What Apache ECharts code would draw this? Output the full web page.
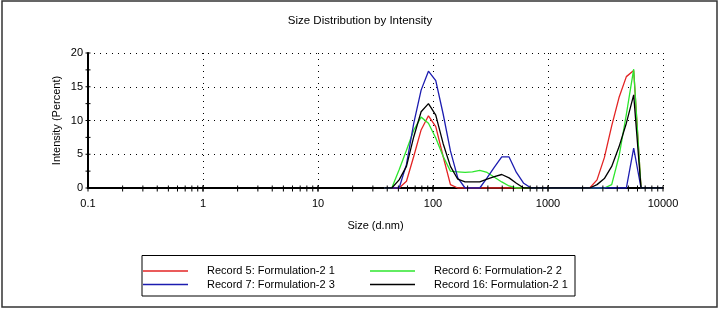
<!DOCTYPE html>
<html>
<head>
<meta charset="utf-8">
<script src="https://cdn.jsdelivr.net/npm/echarts@6/dist/echarts.min.js"></script>
<style>
  html, body { margin: 0; padding: 0; background: #fff; }
  #myChart { width: 720px; height: 309px; }
</style>
</head>
<body>
<div id="myChart"></div>
<script>
// size bins (d.nm)
var sizes = [37.84, 43.82, 50.75, 58.77, 68.06, 78.82, 91.28, 105.7, 122.4, 141.8,
  164.2, 190.1, 220.2, 255.0, 295.3, 342.0, 396.1, 458.7, 531.2, 615.1,
  712.4, 825.0, 955.4, 1106, 1281, 1484, 1718, 1990, 2305, 2669,
  3091, 3580, 4145, 4801, 5560, 6439, 7456, 8635, 10000];

// intensity (%) per record
var record5 = [0, 0, 0, 1.0, 4.7, 8.6, 10.7, 9.1, 4.7, 0.5,
  0, 0, 0, 0, 0, 0, 0, 0, 0, 0,
  0, 0, 0, 0, 0, 0, 0, 0, 0, 1.2,
  4.5, 9.2, 13.4, 16.5, 17.4, 0, 0, 0, 0];
var record6 = [0, 0, 2.7, 5.6, 8.6, 10.5, 9.6, 7.4, 4.7, 2.5,
  2.4, 2.3, 2.4, 2.6, 2.3, 1.6, 0.9, 0.3, 0, 0,
  0, 0, 0, 0, 0, 0, 0, 0, 0, 0,
  0, 0.5, 4.7, 10.9, 17.6, 0, 0, 0, 0];
var record7 = [0, 0, 0, 3.5, 9.6, 14.5, 17.3, 15.9, 11.0, 5.5,
  1.5, 0, 0, 0, 1.5, 3.1, 4.6, 4.6, 2.3, 0.7,
  0, 0, 0, 0, 0, 0, 0, 0, 0, 0,
  0, 0, 0, 0, 5.9, 0, 0, 0, 0];
var record16 = [0, 0, 1.2, 3.2, 7.6, 11.3, 12.5, 10.8, 6.6, 3.2,
  1.3, 0.9, 0.9, 0.9, 1.3, 1.7, 2.0, 1.5, 0.7, 0,
  0, 0, 0, 0, 0, 0, 0, 0, 0, 0.5,
  1.4, 3.2, 6.1, 9.6, 13.8, 0, 0, 0, 0];

var seriesNames = ['Record 5: Formulation-2 1', 'Record 6: Formulation-2 2',
  'Record 7: Formulation-2 3', 'Record 16: Formulation-2 1'];
var seriesColors = ['#e32424', '#2ee62e', '#1c1cb0', '#000000'];

var xTickLabels = ['0.1', '1', '10', '100', '1000', '10000'];
var yTickLabels = ['0', '5', '10', '15', '20'];

// small tick marks crossing the axes
var xMinorTicks = [];
[0.1, 1, 10, 100, 1000].forEach(function (d) {
  for (var k = 1; k <= 10; k++) xMinorTicks.push([d * k, 0]);
});
var yMinorTicks = [0, 2.5, 5, 7.5, 10, 12.5, 15, 17.5, 20].map(function (v) { return [0.1, v]; });

var FONT = '"Liberation Sans", Arial, sans-serif';

function pairs(vals) {
  return sizes.map(function (s, i) { return [s, vals[i]]; });
}

var myChart = echarts.init(document.getElementById('myChart'));

var allValues = [record5, record6, record7, record16];
var series = allValues.map(function (vals, i) {
  return {
    name: seriesNames[i],
    type: 'line',
    data: pairs(vals),
    symbol: 'none',
    smooth: false,
    lineStyle: { color: seriesColors[i], width: 1.3 },
    itemStyle: { color: seriesColors[i] },
    emphasis: { disabled: true }
  };
});

function tickRenderer(dir) {
  return function (params, api) {
    var p = api.coord([api.value(0), api.value(1)]);
    var h = 2.5;
    var shape = dir === 'x'
      ? { x1: p[0], y1: p[1] - h, x2: p[0], y2: p[1] + h + 1 }
      : { x1: p[0] - h, y1: p[1], x2: p[0] + h, y2: p[1] };
    return { type: 'line', shape: shape, style: { stroke: '#000', lineWidth: 1 } };
  };
}

series.push({
  type: 'custom', name: 'xticks', data: xMinorTicks, clip: false, silent: true,
  renderItem: tickRenderer('x'), z: 5
});
series.push({
  type: 'custom', name: 'yticks', data: yMinorTicks, clip: false, silent: true,
  renderItem: tickRenderer('y'), z: 5
});

function legendAt(i, left, top) {
  return {
    data: [seriesNames[i]],
    left: left, top: top,
    padding: 0,
    icon: 'rect',
    itemWidth: 45, itemHeight: 1.5,
    selectedMode: false,
    textStyle: { fontSize: 11, color: '#000', fontFamily: FONT, padding: [0, 0, 0, 14] }
  };
}

var option = {
  backgroundColor: '#fff',
  animation: false,
  title: {
    text: 'Size Distribution by Intensity',
    left: 'center', top: 14.5, padding: 0,
    textStyle: { fontSize: 11.5, fontWeight: 'normal', color: '#000', fontFamily: FONT }
  },
  grid: { left: 88, right: 57, top: 53, bottom: 121, outerBoundsMode: 'none' },
  legend: [
    legendAt(0, 143, 265.5),
    legendAt(1, 370, 265.5),
    legendAt(2, 143, 279),
    legendAt(3, 370, 279)
  ],
  xAxis: {
    type: 'log', logBase: 10, min: 0.1, max: 10000, splitNumber: 5,
    name: 'Size (d.nm)', nameLocation: 'middle', nameGap: 32, nameMoveOverlap: false,
    nameTextStyle: { fontSize: 11, color: '#000', fontFamily: FONT },
    axisLine: { lineStyle: { color: '#000', width: 2 } },
    axisTick: { show: false },
    axisLabel: {
      fontSize: 11, color: '#000', fontFamily: FONT, margin: 10,
      formatter: function (v, idx) { return xTickLabels[idx]; }
    },
    splitLine: { show: true, lineStyle: { color: '#000', width: 1, type: [1, 5] } },
    minorTick: { show: false }
  },
  yAxis: {
    type: 'value', min: 0, max: 20, interval: 5,
    name: 'Intensity (Percent)', nameLocation: 'middle', nameGap: 26, nameRotate: 90,
    nameMoveOverlap: false,
    nameTextStyle: { fontSize: 11, color: '#000', fontFamily: FONT },
    axisLine: { show: true, lineStyle: { color: '#000', width: 2 } },
    axisTick: { show: false },
    axisLabel: {
      fontSize: 11, color: '#000', fontFamily: FONT, margin: 5,
      formatter: function (v, idx) { return yTickLabels[idx]; }
    },
    splitLine: { show: true, lineStyle: { color: '#000', width: 1, type: [1, 5] } }
  },
  graphic: [
    {
      type: 'rect', silent: true,
      shape: { x: 2, y: 1, width: 715, height: 306 },
      style: { fill: 'none', stroke: '#333', lineWidth: 1.5 }
    },
    {
      type: 'rect', silent: true,
      shape: { x: 142, y: 255.5, width: 433, height: 40.5 },
      style: { fill: 'none', stroke: '#000', lineWidth: 1 }
    }
  ],
  series: series
};

window.onresize = myChart.resize;
myChart.setOption(option);
</script>
</body>
</html>
